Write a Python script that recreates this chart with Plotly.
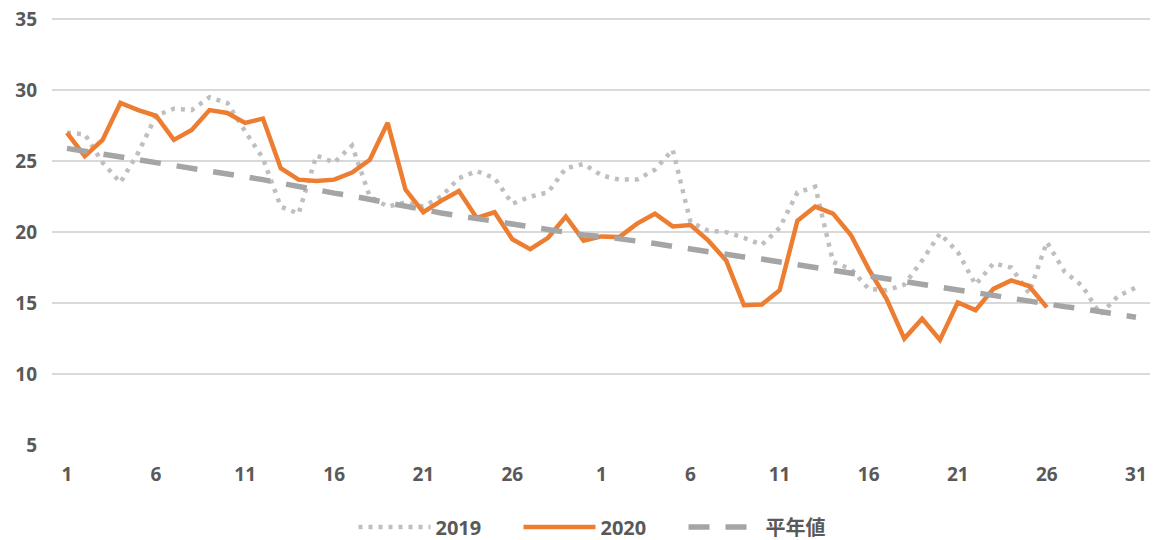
import plotly.graph_objects as go

# Day labels: a 30-day month followed by a 31-day month
days = list(range(1, 31)) + list(range(1, 32))

y2019 = [27.0, 26.9, 24.9, 23.5, 25.6, 28.2, 28.7, 28.6, 29.5, 29.1,
         27.1, 25.2, 21.8, 21.3, 25.4, 24.9, 26.1, 22.5, 21.8, 22.1,
         21.8, 22.5, 23.8, 24.3, 23.8, 22.0, 22.5, 22.8, 24.5, 24.8,
         24.0, 23.7, 23.7, 24.4, 25.8, 20.7, 20.1, 20.0, 19.6, 19.1,
         20.3, 22.8, 23.2, 17.9, 17.4, 16.0, 15.9, 16.3, 18.0, 19.9,
         18.6, 16.3, 17.8, 17.5, 15.7, 19.3, 17.2, 16.2, 14.2, 15.5,
         16.1]

y2020 = [27.0, 25.35, 26.5, 29.1, 28.6, 28.2, 26.5, 27.2, 28.6, 28.4,
         27.7, 28.0, 24.5, 23.7, 23.6, 23.7, 24.2, 25.1, 27.7, 23.0,
         21.4, 22.2, 22.9, 21.0, 21.4, 19.5, 18.8, 19.6, 21.1, 19.4,
         19.7, 19.65, 20.6, 21.3, 20.4, 20.5, 19.4, 18.0, 14.85, 14.9,
         15.9, 20.8, 21.8, 21.3, 19.8, 17.4, 15.3, 12.5, 13.9, 12.4,
         15.05, 14.5, 16.0, 16.6, 16.2, 14.7]

normal = [25.9, 25.7, 25.5, 25.35, 25.15, 24.95, 24.75, 24.55, 24.35, 24.15,
          23.9, 23.7, 23.45, 23.2, 22.95, 22.75, 22.55, 22.3, 22.05, 21.85,
          21.6, 21.35, 21.15, 20.95, 20.8, 20.6, 20.4, 20.2, 20.0, 19.8,
          19.7, 19.55, 19.4, 19.2, 19.0, 18.8, 18.65, 18.45, 18.25, 18.1,
          17.9, 17.75, 17.55, 17.35, 17.15, 16.95, 16.7, 16.5, 16.3, 16.1,
          15.9, 15.7, 15.5, 15.3, 15.1, 14.9, 14.75, 14.6, 14.4, 14.2,
          14.0]

y_ticks = [5, 10, 15, 20, 25, 30, 35]

x_all = list(range(len(days)))
tick_idx = x_all[::5]
tick_txt = [str(days[i]) for i in tick_idx]

FONT = "'Open Sans', 'Noto Sans CJK JP', sans-serif"
TXT = "#595959"

fig = go.Figure()
fig.add_trace(go.Scatter(
    x=x_all[:len(y2019)], y=y2019, name="2019", mode="lines",
    line=dict(color="#BFBFBF", width=4.5, dash="4px,6px"),
))
fig.add_trace(go.Scatter(
    x=x_all[:len(y2020)], y=y2020, name="2020", mode="lines",
    line=dict(color="#ED7D31", width=4.5),
))
fig.add_trace(go.Scatter(
    x=x_all[:len(normal)], y=normal, name="平年値", mode="lines",
    line=dict(color="#A5A5A5", width=5.5, dash="21px,16px"),
))

fig.update_layout(
    width=1160, height=540,
    margin=dict(l=52, r=10, t=15, b=95, autoexpand=False),
    paper_bgcolor="white", plot_bgcolor="white",
    font=dict(family=FONT, size=19, color=TXT, weight=700),
    showlegend=True,
    legend=dict(orientation="h", x=0.5, xanchor="center",
                yref="container", y=0.024, yanchor="middle",
                itemwidth=72, entrywidth=78, entrywidthmode="pixels",
                font=dict(family=FONT, size=20, color=TXT, weight=700),
                traceorder="normal"),
    xaxis=dict(range=[-0.84, 60.79], tickmode="array", tickvals=tick_idx, ticktext=tick_txt,
               showgrid=False, zeroline=False, showline=False, ticks="",
               ticklabelstandoff=16, automargin=False, ticklabeloverflow="allow",
               tickfont=dict(family=FONT, size=19, color=TXT, weight=700)),
    yaxis=dict(range=[5, 35.3], tickmode="array", tickvals=y_ticks,
               showgrid=True, gridcolor="#D9D9D9", gridwidth=1.5, zeroline=False,
               showline=False, ticks="", ticklabelstandoff=14, automargin=False,
               ticklabeloverflow="allow",
               tickfont=dict(family=FONT, size=19, color=TXT, weight=700)),
)

# remove the page's default body margin so the 1160x540 figure fills the window
fig.write_html("out.html", config={"displayModeBar": False},
               post_script="document.body.style.margin='0px';")
